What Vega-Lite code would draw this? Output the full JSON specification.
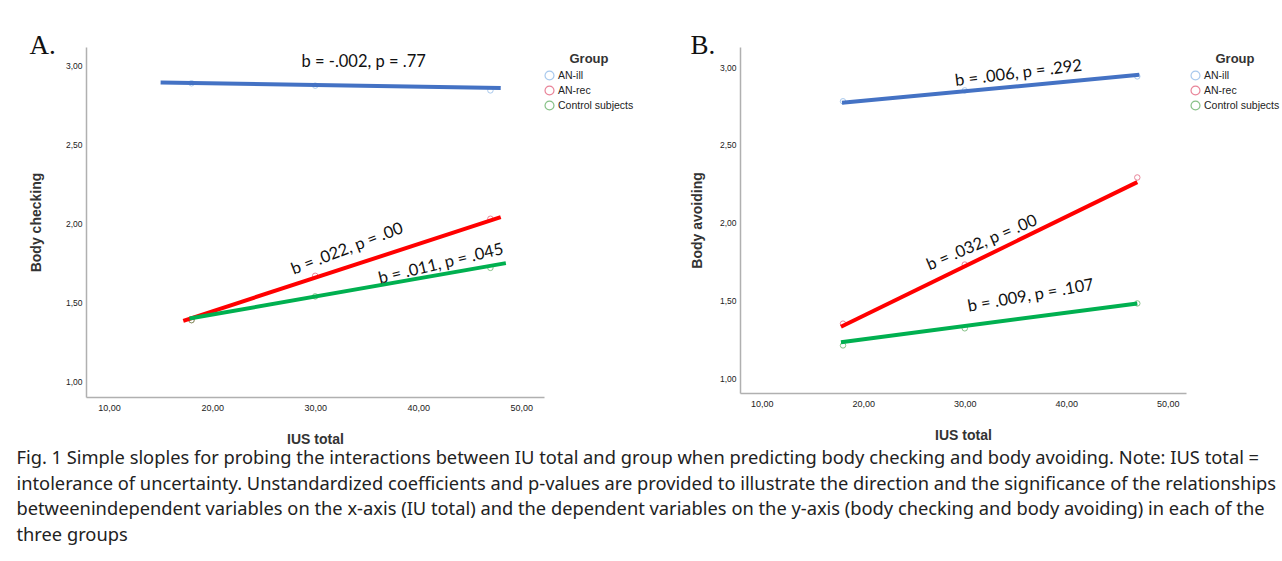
{
  "$schema": "https://vega.github.io/schema/vega-lite/v6.json",
  "background": "white",
  "padding": {"left": 16, "top": 32, "right": 3, "bottom": 3},
  "datasets": {
    "points": [
      {"panel": "A", "group": "AN-ill", "iu": 18, "value": 2.885},
      {"panel": "A", "group": "AN-ill", "iu": 30, "value": 2.87},
      {"panel": "A", "group": "AN-ill", "iu": 47, "value": 2.84},
      {"panel": "A", "group": "AN-rec", "iu": 18, "value": 1.39},
      {"panel": "A", "group": "AN-rec", "iu": 30, "value": 1.67},
      {"panel": "A", "group": "AN-rec", "iu": 47, "value": 2.03},
      {"panel": "A", "group": "Control subjects", "iu": 18, "value": 1.39},
      {"panel": "A", "group": "Control subjects", "iu": 30, "value": 1.54},
      {"panel": "A", "group": "Control subjects", "iu": 47, "value": 1.72},
      {"panel": "B", "group": "AN-ill", "iu": 18, "value": 2.78},
      {"panel": "B", "group": "AN-ill", "iu": 30, "value": 2.85},
      {"panel": "B", "group": "AN-ill", "iu": 47, "value": 2.94},
      {"panel": "B", "group": "AN-rec", "iu": 18, "value": 1.35},
      {"panel": "B", "group": "AN-rec", "iu": 30, "value": 1.73},
      {"panel": "B", "group": "AN-rec", "iu": 47, "value": 2.29},
      {"panel": "B", "group": "Control subjects", "iu": 18, "value": 1.21},
      {"panel": "B", "group": "Control subjects", "iu": 30, "value": 1.32},
      {"panel": "B", "group": "Control subjects", "iu": 47, "value": 1.48}
    ],
    "lines": [
      {"panel": "A", "series": "AN-ill", "iu": 15, "value": 2.89},
      {"panel": "A", "series": "AN-ill", "iu": 48, "value": 2.855},
      {"panel": "A", "series": "AN-rec", "iu": 17.2, "value": 1.386},
      {"panel": "A", "series": "AN-rec", "iu": 48, "value": 2.04},
      {"panel": "A", "series": "Control subjects", "iu": 17.8, "value": 1.4},
      {"panel": "A", "series": "Control subjects", "iu": 48.5, "value": 1.75},
      {"panel": "B", "series": "AN-ill", "iu": 17.9, "value": 2.77},
      {"panel": "B", "series": "AN-ill", "iu": 47.2, "value": 2.95},
      {"panel": "B", "series": "AN-rec", "iu": 17.8, "value": 1.33},
      {"panel": "B", "series": "AN-rec", "iu": 47, "value": 2.26},
      {"panel": "B", "series": "Control subjects", "iu": 17.8, "value": 1.23},
      {"panel": "B", "series": "Control subjects", "iu": 47, "value": 1.48}
    ],
    "notes": [
      {"panel": "A", "series": "AN-ill", "iu": 34.7, "value": 3.02, "note": "b = -.002, p = .77"},
      {"panel": "A", "series": "AN-rec", "iu": 33.1, "value": 1.84, "note": "b = .022, p = .00"},
      {"panel": "A", "series": "Control subjects", "iu": 42.2, "value": 1.745, "note": "b = .011, p = .045"},
      {"panel": "B", "series": "AN-ill", "iu": 35.3, "value": 2.96, "note": "b = .006, p = .292"},
      {"panel": "B", "series": "AN-rec", "iu": 31.7, "value": 1.87, "note": "b = .032, p = .00"},
      {"panel": "B", "series": "Control subjects", "iu": 36.5, "value": 1.53, "note": "b = .009, p = .107"}
    ]
  },
  "title": {
    "text": [
      "Fig. 1  Simple sloples for probing the interactions between IU total and group when predicting body checking and body avoiding. Note: IUS total =",
      "intolerance of uncertainty. Unstandardized coefficients and p-values are provided to illustrate the direction and the significance of the relationships",
      "betweenindependent variables on the x-axis (IU total) and the dependent variables on the y-axis (body checking and body avoiding) in each of the",
      "three groups"
    ],
    "orient": "bottom",
    "anchor": "start",
    "frame": "bounds",
    "font": "Noto Sans",
    "fontSize": 18.3,
    "fontWeight": "normal",
    "lineHeight": 25.5,
    "color": "#222222",
    "offset": 4,
    "dx": -13
  },
  "spacing": 50,
  "resolve": {
    "scale": {"x": "independent", "y": "independent", "color": "independent", "stroke": "independent"},
    "legend": {"color": "independent"}
  },
  "hconcat": [
    {
      "title": {"text": "A.", "anchor": "start", "font": "Liberation Serif", "fontSize": 27, "fontWeight": "normal", "color": "#111111", "offset": -13},
      "width": 458,
      "height": 350,
      "encoding": {
        "x": {"field": "iu", "type": "quantitative", "scale": {"domain": [7.76, 52.2], "nice": false, "zero": false},
              "axis": {"values": [10, 20, 30, 40, 50], "title": "IUS total", "labelExpr": "replace(format(datum.value,'.2f'),'.',',')"}},
        "y": {"field": "value", "type": "quantitative", "scale": {"domain": [0.905, 3.114], "nice": false, "zero": false},
              "axis": {"values": [1, 1.5, 2, 2.5, 3], "title": "Body checking", "titlePadding": 22, "labelExpr": "replace(format(datum.value,'.2f'),'.',',')"}}
      },
      "layer": [
        {
          "data": {"name": "points"},
          "transform": [{"filter": "datum.panel === 'A'"}],
          "mark": {"type": "point", "filled": false, "size": 30, "strokeWidth": 1, "shape": "circle"},
          "encoding": {
            "color": {"field": "group", "type": "nominal", "title": "Group",
                      "scale": {"domain": ["AN-ill", "AN-rec", "Control subjects"], "range": ["#85b3e6", "#e0506e", "#55a855"]},
                      "legend": {"orient": "right", "offset": -6, "padding": 6, "symbolType": "circle", "symbolSize": 80, "symbolStrokeWidth": 1.2, "symbolFillColor": "transparent"}}
          }
        },
        {
          "data": {"name": "lines"},
          "transform": [{"filter": "datum.panel === 'A'"}],
          "mark": {"type": "line", "strokeWidth": 4},
          "encoding": {
            "stroke": {"field": "series", "type": "nominal", "legend": null,
                       "scale": {"domain": ["AN-ill", "AN-rec", "Control subjects"], "range": ["#4472c4", "#ff0000", "#00b050"]}}
          }
        },
        {
          "data": {"name": "notes"},
          "transform": [{"filter": "datum.panel === 'A' && datum.series === 'AN-ill'"}],
          "mark": {"type": "text", "font": "Lato", "fontSize": 16.5, "color": "#111111", "angle": 0},
          "encoding": {"text": {"field": "note"}}
        },
        {
          "data": {"name": "notes"},
          "transform": [{"filter": "datum.panel === 'A' && datum.series === 'AN-rec'"}],
          "mark": {"type": "text", "font": "Lato", "fontSize": 16.5, "color": "#111111", "angle": 339},
          "encoding": {"text": {"field": "note"}}
        },
        {
          "data": {"name": "notes"},
          "transform": [{"filter": "datum.panel === 'A' && datum.series === 'Control subjects'"}],
          "mark": {"type": "text", "font": "Lato", "fontSize": 16.5, "color": "#111111", "angle": 346.5},
          "encoding": {"text": {"field": "note"}}
        }
      ]
    },
    {
      "title": {"text": "B.", "anchor": "start", "font": "Liberation Serif", "fontSize": 27, "fontWeight": "normal", "color": "#111111", "offset": -13},
      "width": 446,
      "height": 346,
      "encoding": {
        "x": {"field": "iu", "type": "quantitative", "scale": {"domain": [7.85, 51.8], "nice": false, "zero": false},
              "axis": {"values": [10, 20, 30, 40, 50], "title": "IUS total", "labelExpr": "replace(format(datum.value,'.2f'),'.',',')"}},
        "y": {"field": "value", "type": "quantitative", "scale": {"domain": [0.904, 3.129], "nice": false, "zero": false},
              "axis": {"values": [1, 1.5, 2, 2.5, 3], "title": "Body avoiding", "titlePadding": 15, "labelExpr": "replace(format(datum.value,'.2f'),'.',',')"}}
      },
      "layer": [
        {
          "data": {"name": "points"},
          "transform": [{"filter": "datum.panel === 'B'"}],
          "mark": {"type": "point", "filled": false, "size": 30, "strokeWidth": 1, "shape": "circle"},
          "encoding": {
            "color": {"field": "group", "type": "nominal", "title": "Group",
                      "scale": {"domain": ["AN-ill", "AN-rec", "Control subjects"], "range": ["#85b3e6", "#e0506e", "#55a855"]},
                      "legend": {"orient": "right", "offset": -2, "padding": 6, "symbolType": "circle", "symbolSize": 80, "symbolStrokeWidth": 1.2, "symbolFillColor": "transparent"}}
          }
        },
        {
          "data": {"name": "lines"},
          "transform": [{"filter": "datum.panel === 'B'"}],
          "mark": {"type": "line", "strokeWidth": 4},
          "encoding": {
            "stroke": {"field": "series", "type": "nominal", "legend": null,
                       "scale": {"domain": ["AN-ill", "AN-rec", "Control subjects"], "range": ["#4472c4", "#ff0000", "#00b050"]}}
          }
        },
        {
          "data": {"name": "notes"},
          "transform": [{"filter": "datum.panel === 'B' && datum.series === 'AN-ill'"}],
          "mark": {"type": "text", "font": "Lato", "fontSize": 16.5, "color": "#111111", "angle": 353},
          "encoding": {"text": {"field": "note"}}
        },
        {
          "data": {"name": "notes"},
          "transform": [{"filter": "datum.panel === 'B' && datum.series === 'AN-rec'"}],
          "mark": {"type": "text", "font": "Lato", "fontSize": 16.5, "color": "#111111", "angle": 337},
          "encoding": {"text": {"field": "note"}}
        },
        {
          "data": {"name": "notes"},
          "transform": [{"filter": "datum.panel === 'B' && datum.series === 'Control subjects'"}],
          "mark": {"type": "text", "font": "Lato", "fontSize": 16.5, "color": "#111111", "angle": 350},
          "encoding": {"text": {"field": "note"}}
        }
      ]
    }
  ],
  "config": {
    "view": {"stroke": null},
    "axis": {
      "grid": false,
      "ticks": false,
      "domainColor": "#b0b0b0",
      "domainWidth": 1.5,
      "labelFont": "Liberation Sans",
      "labelFontSize": 8.5,
      "labelColor": "#222222",
      "titleFont": "Liberation Sans",
      "titleFontSize": 14,
      "titleFontWeight": "bold",
      "titleColor": "#333333"
    },
    "axisX": {"labelPadding": 6, "titlePadding": 20, "labelFontSize": 9},
    "axisY": {"labelPadding": 4},
    "legend": {
      "titleFont": "Liberation Sans",
      "titleFontSize": 13,
      "titleFontWeight": "bold",
      "titleColor": "#333333",
      "titleAnchor": "middle",
      "titlePadding": 4,
      "labelFont": "Liberation Sans",
      "labelFontSize": 10.5,
      "labelColor": "#222222",
      "labelOffset": 3,
      "rowPadding": 0
    }
  }
}
